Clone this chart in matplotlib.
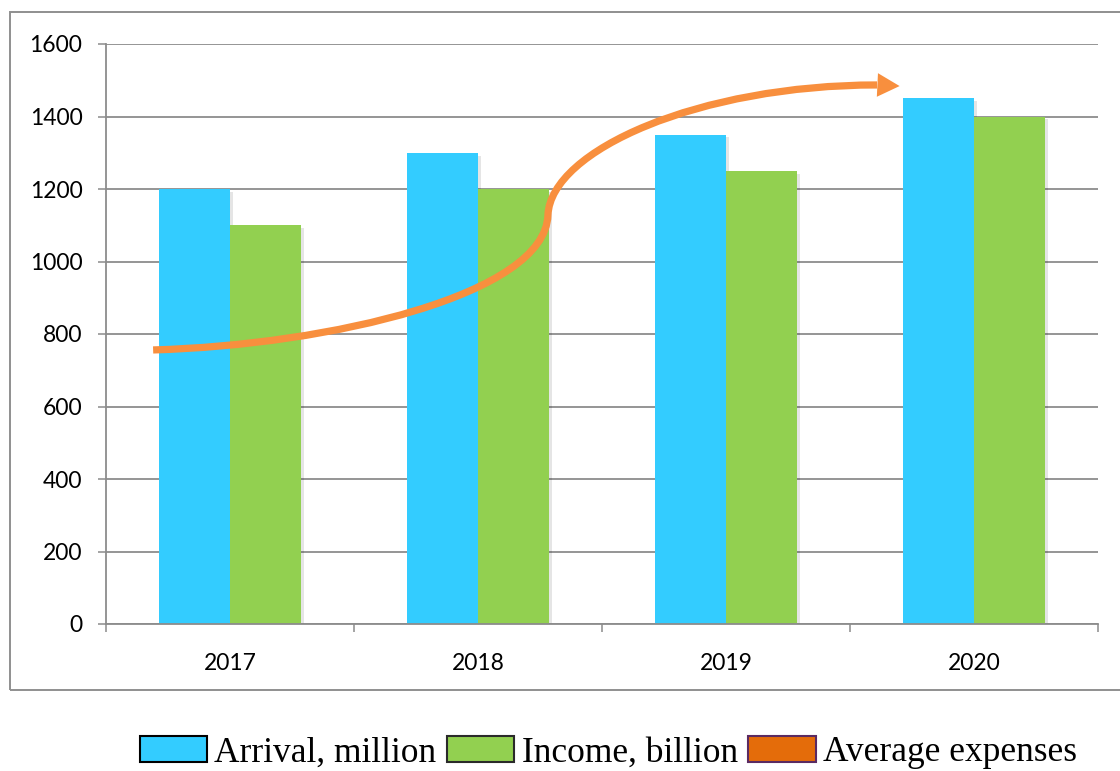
import numpy as np
import matplotlib
matplotlib.use("Agg")
from matplotlib import pyplot as plt
from matplotlib.patches import Patch, Rectangle, PathPatch
from matplotlib.path import Path
from matplotlib import patheffects as pe

# chart data
years = ["2017", "2018", "2019", "2020"]
arrival = [1200, 1300, 1350, 1450]
income = [1100, 1200, 1250, 1400]

# hand drawn trend arrow for average expenses: two cubic bezier pieces
# (start, ctrl, ctrl, joint, ctrl, ctrl, end) in data coords
trend_x = [-0.31, 0.403, 1.27, 1.282, 1.294, 1.895, 2.609]
trend_y = [756, 770, 908, 1128, 1308, 1487, 1487]
trend_tip = (2.70, 1484)

yticks = [0, 200, 400, 600, 800, 1000, 1200, 1400, 1600]

blue = "#33CCFF"
green = "#92D050"
orange = "#F88F3E"
grid_gray = "#8C8C8C"

fig = plt.figure(figsize=(11.2, 7.71), dpi=100)
ax = fig.add_axes([106/1120, 1 - 624/771, 992/1120, 580/771])

# outer chart border
fig.patches.append(Rectangle((10/1120, 1 - 690/771), 1.2, (690 - 12)/771,
                             transform=fig.transFigure, fill=False,
                             edgecolor="#8F8F8F", lw=1.4, zorder=0))

x = np.arange(len(years))
w = 0.286
shadow = [pe.SimplePatchShadow(offset=(2, -2), shadow_rgbFace="#000000",
                               alpha=0.1), pe.Normal()]
ax.bar(x - w/2, arrival, width=w, color=blue, zorder=2, path_effects=shadow)
ax.bar(x + w/2, income, width=w, color=green, zorder=2, path_effects=shadow)

codes = [Path.MOVETO] + [Path.CURVE4] * 6
curve = Path(list(zip(trend_x, trend_y)), codes)
ax.add_patch(PathPatch(curve, fill=False, edgecolor=orange, lw=5.2,
                       capstyle="butt", zorder=4))
ax.annotate("", xy=trend_tip, xytext=(trend_x[-1], trend_y[-1]),
            arrowprops=dict(arrowstyle="-|>,head_length=16,head_width=8.5",
                            mutation_scale=1, color=orange, lw=0,
                            shrinkA=0, shrinkB=0), zorder=4)

ax.set_xlim(-0.5, 3.5)
ax.set_ylim(0, 1600)
ax.set_yticks(yticks)
ax.set_xticks(x)
ax.set_xticklabels(years)
ax.set_xticks(np.arange(-0.5, 4.0, 1.0), minor=True)
ax.tick_params(axis="x", which="major", length=0, pad=21)
ax.tick_params(axis="x", which="minor", length=6, color=grid_gray, width=1.1,
               direction="out")
ax.tick_params(axis="y", length=6, color=grid_gray, width=1.1, pad=11)
for lab in ax.get_xticklabels() + ax.get_yticklabels():
    lab.set_family("Lato")
    lab.set_fontsize(16.5)

ax.yaxis.grid(True, color=grid_gray, lw=1.3, zorder=1)
ax.set_axisbelow(True)
for s in ["top", "right"]:
    ax.spines[s].set_visible(False)
for s in ["left", "bottom"]:
    ax.spines[s].set_color(grid_gray)
    ax.spines[s].set_linewidth(1.3)

handles = [Patch(facecolor=blue, edgecolor="black", lw=1.5),
           Patch(facecolor=green, edgecolor="#2A2A2A", lw=1.5),
           Patch(facecolor="#E46C0A", edgecolor="#5A2A62", lw=1.5)]
labels = ["Arrival, million", "Income, billion", "Average expenses"]
fig.legend(handles, labels, loc="upper left",
           bbox_to_anchor=(140/1120, 1 - 736/771), ncol=3, frameon=False,
           prop={"family": "Liberation Serif", "size": 25.5},
           handlelength=1.9, handleheight=0.75, handletextpad=0.2,
           columnspacing=0.3, borderpad=0, borderaxespad=0)

fig.savefig("out.png", dpi=100)
